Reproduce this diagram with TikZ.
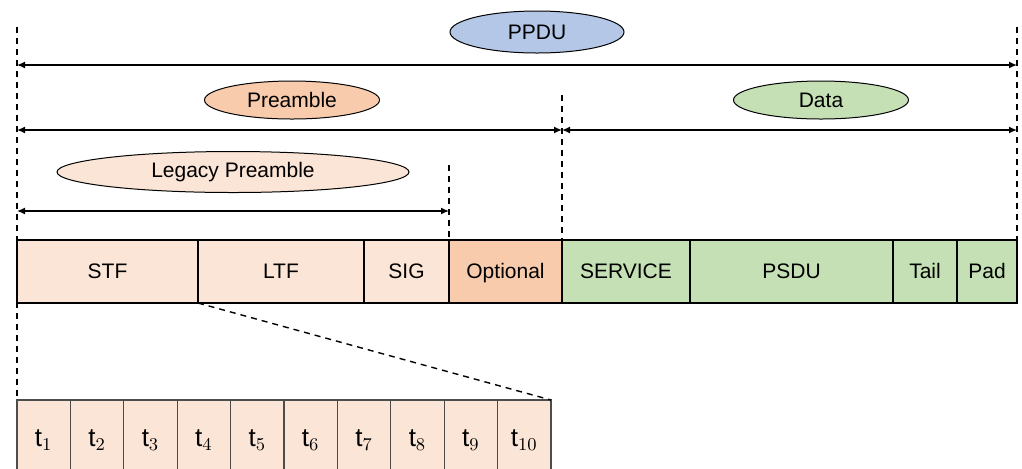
\documentclass[tikz,border=0pt]{standalone}
\usepackage{fontspec}
\setmainfont{Liberation Sans}
\usetikzlibrary{positioning,shapes.geometric,arrows.meta}
\definecolor{ppdublue}{HTML}{B4C7E7}
\definecolor{preorange}{HTML}{F8CBAD}
\definecolor{datagreen}{HTML}{C5E0B4}
\definecolor{legacy}{HTML}{FBE5D6}
\tikzset{
  field/.style={draw=black,line width=0.6pt,minimum height=31.5pt,inner sep=0pt,outer sep=0pt,text depth=0.5pt},
  slot/.style={draw=black!70,line width=0.6pt,minimum width=26.7pt,minimum height=40pt,inner sep=0pt,outer sep=0pt,fill=legacy,font=\fontsize{13}{15}\selectfont},
  tag/.style={ellipse,draw=black,line width=0.5pt,inner sep=0pt},
  span/.style={{Latex[length=4pt,width=3.5pt]}-{Latex[length=4pt,width=3.5pt]},line width=0.7pt},
  guide/.style={dash pattern=on 3pt off 2.5pt,line width=0.7pt}
}
\begin{document}
\begin{tikzpicture}[x=0.5pt,y=-0.5pt,font=\fontsize{10.5}{12}\selectfont]
		\useasboundingbox (0,0) rectangle (1022,468);
		
		% labels
		\node[tag,fill=ppdublue,minimum width=87pt,minimum height=21pt] (ppdu) at (537,32) {PPDU};
		\node[tag,fill=preorange,minimum width=87.5pt,minimum height=19pt] (preamble) at (292,100) {Preamble};
		\node[tag,fill=datagreen,minimum width=87.5pt,minimum height=19pt] (data) at (821,100) {Data};
		\node[tag,fill=legacy,minimum width=176pt,minimum height=20.5pt] (legacyp) at (233,172) {Legacy Preamble};
		
		% guide tops
		\coordinate (gl) at (17,27);
		\coordinate (gr) at (1017,27);
		\coordinate (gm) at (562,95);
		\coordinate (gs) at (449,165);
		
		% PPDU fields
		\node[field,fill=legacy,minimum width=90.5pt,anchor=north west] (stf) at (17,240) {STF};
		\node[field,fill=legacy,minimum width=83pt,right=0pt of stf] (ltf) {LTF};
		\node[field,fill=legacy,minimum width=42.5pt,right=0pt of ltf] (sig) {SIG};
		\node[field,fill=preorange,minimum width=56.5pt,right=0pt of sig] (opt) {Optional};
		\node[field,fill=datagreen,minimum width=64pt,right=0pt of opt] (service) {SERVICE};
		\node[field,fill=datagreen,minimum width=101.5pt,right=0pt of service] (psdu) {PSDU};
		\node[field,fill=datagreen,minimum width=32pt,right=0pt of psdu] (tail) {Tail};
		\node[field,fill=datagreen,minimum width=30pt,right=0pt of tail] (pad) {Pad};
		
		% LTF symbols
		\node[slot,anchor=north west] (t1) at (17,400) {$\mathrm{t}_{1}$};
		\foreach \i [remember=\i as \j (initially 1)] in {2,...,10}
			\node[slot,right=0pt of t\j] (t\i) {$\mathrm{t}_{\i}$};
		
		% dashed guides
		\draw[guide] (gl)--(t1.north west);
		\draw[guide] (gr)--(pad.north east);
		\draw[guide] (gm)--(service.north west);
		\draw[guide] (gs)--(opt.north west);
		\draw[guide] (ltf.south west)--(t10.north east);
		
		% spans
		\coordinate (pl) at (17,65);
		\coordinate (pr) at (1017,65);
		\coordinate (rl) at (17,130);
		\coordinate (rm) at (562,130);
		\coordinate (rr) at (1017,130);
		\coordinate (ll) at (17,211);
		\coordinate (lr) at (449,211);
		\draw[span] (pl)--(pr);
		\draw[span] (rl)--(rm);
		\draw[span] (rm)--(rr);
		\draw[span] (ll)--(lr);
	\end{tikzpicture}
\end{document}
